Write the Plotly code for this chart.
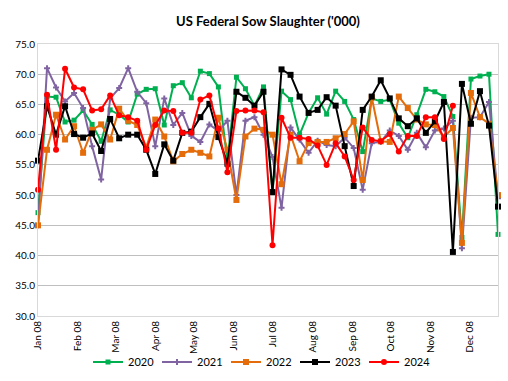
import pandas as pd
import plotly.graph_objects as go

# Week dates (dummy year 2008, weekly from Jan 08)
weeks = pd.date_range("2008-01-08", periods=52, freq="7D")

tick_dates = [f"2008-{m:02d}-08" for m in range(1, 13)]
tick_labels = ["Jan 08", "Feb 08", "Mar 08", "Apr 08", "May 08", "Jun 08",
               "Jul 08", "Aug 08", "Sep 08", "Oct 08", "Nov 08", "Dec 08"]
y_ticks = [30, 35, 40, 45, 50, 55, 60, 65, 70, 75]

s2020 = [47.1, 66.3, 66.2, 62.1, 62.4, 64.0, 61.7, 58.9, 64.1, 63.3,
         62.1, 66.7, 67.5, 67.6, 61.6, 68.1, 68.6, 66.1, 70.5, 70.1,
         67.9, 55.6, 69.5, 67.6, 64.8, 67.9, 50.5, 67.2, 65.8, 60.0,
         63.6, 66.1, 63.4, 67.2, 65.5, 62.5, 57.2, 66.0, 65.5, 65.8,
         61.9, 59.5, 63.3, 67.5, 67.1, 66.3, 63.0, 43.0, 69.2, 69.7,
         70.0, 43.5]
s2021 = [45.0, 71.0, 67.8, 65.5, 66.9, 64.4, 58.1, 52.6, 66.0, 67.7,
         71.0, 67.1, 65.2, 58.1, 66.0, 61.6, 63.6, 59.8, 58.8, 61.7,
         60.6, 62.3, 50.0, 62.3, 62.9, 60.0, 56.3, 47.9, 61.2, 59.2,
         57.0, 59.0, 58.3, 58.1, 59.5, 57.8, 50.9, 58.6, 58.8, 60.7,
         59.8, 57.5, 60.3, 57.9, 60.7, 61.0, 62.3, 41.2, 62.8, 62.9,
         65.4, 49.5]
s2022 = [45.0, 57.5, 63.3, 59.2, 61.4, 57.0, 60.8, 61.7, 59.2, 64.3,
         62.3, 61.6, 57.9, 62.5, 59.7, 55.6, 56.8, 57.5, 57.0, 56.4,
         62.8, 57.5, 49.2, 59.7, 61.0, 60.8, 60.0, 51.8, 60.0, 55.6,
         58.6, 58.8, 58.8, 59.4, 60.1, 62.2, 52.5, 66.2, 58.9, 58.8,
         66.3, 64.4, 62.5, 61.7, 61.6, 59.6, 61.1, 42.1, 66.9, 62.9,
         61.8, 50.0]
s2023 = [55.7, 64.7, 60.0, 64.7, 60.1, 59.5, 60.2, 57.3, 62.6, 59.4,
         60.0, 60.0, 57.5, 53.5, 58.4, 55.7, 60.3, 60.5, 62.9, 65.1,
         59.6, 55.2, 67.1, 66.1, 64.8, 67.1, 50.5, 70.8, 69.9, 66.3,
         63.6, 64.1, 66.2, 64.8, 58.1, 51.5, 64.1, 66.3, 69.0, 66.0,
         62.7, 61.4, 62.7, 60.3, 62.2, 65.4, 40.6, 68.4, 61.8, 67.2,
         61.5, 48.1]
s2024 = [50.9, 66.6, 57.5, 70.9, 67.8, 67.5, 64.0, 64.2, 66.5, 63.2,
         62.9, 62.3, 57.5, 61.6, 64.0, 63.9, 60.3, 60.3, 65.8, 66.5,
         61.0, 53.8, 63.9, 64.0, 64.0, 63.7, 41.7, 62.8, 59.5, 59.5,
         59.3, 58.2, 55.0, 58.6, 56.4, 52.5, 61.2, 59.1, 58.9, 60.1,
         57.2, 59.8, 59.8, 62.9, 62.9, 59.3, 64.8]

series = [
    ("2020", s2020, "#00B050", "square", 5),
    ("2021", s2021, "#8064A2", "cross", 5),
    ("2022", s2022, "#E46C0A", "square", 6),
    ("2023", s2023, "#000000", "square", 6),
    ("2024", s2024, "#FF0000", "circle", 6),
]

fig = go.Figure()
for name, vals, color, sym, size in series:
    fig.add_trace(go.Scatter(
        x=weeks[:len(vals)], y=vals, name=name, mode="lines+markers",
        line=dict(color=color, width=2),
        marker=dict(symbol=sym, size=size, color=color),
        cliponaxis=False,
    ))

fig.update_layout(
    width=508, height=381,
    margin=dict(l=38, r=10, t=44, b=65),
    paper_bgcolor="white", plot_bgcolor="white",
    font=dict(family="Lato, Liberation Sans, sans-serif", size=11, color="#000000"),
    title=dict(text="<b>US Federal Sow Slaughter ('000)</b>",
               x=268 / 508, xanchor="center", y=1 - 21 / 381, yanchor="middle",
               font=dict(size=13, color="#000000")),
    showlegend=True,
    legend=dict(orientation="h", xref="container", yref="container",
                x=88 / 508, xanchor="left", y=1 - 362 / 381, yanchor="middle",
                font=dict(size=11), entrywidth=24, entrywidthmode="pixels",
                itemwidth=30, bgcolor="rgba(0,0,0,0)"),
)
fig.update_xaxes(
    type="date", range=[weeks[0], weeks[-1]], automargin=False,
    tickmode="array", tickvals=tick_dates, ticktext=tick_labels,
    tickangle=-90, tickfont=dict(size=10),
    showgrid=False, showline=True, linecolor="#D9D9D9", linewidth=1,
    mirror=True, ticks="", zeroline=False,
)
fig.update_yaxes(
    range=[30, 75], automargin=False, tickmode="array", tickvals=y_ticks,
    ticktext=[f"{v:.1f}" for v in y_ticks], tickfont=dict(size=10),
    showgrid=True, gridcolor="#BFBFBF", gridwidth=1,
    showline=True, linecolor="#D9D9D9", linewidth=1, mirror=True,
    ticks="", zeroline=False,
)

fig.write_html("out.html", config={"displayModeBar": False},
               post_script="document.body.style.margin='0';")
